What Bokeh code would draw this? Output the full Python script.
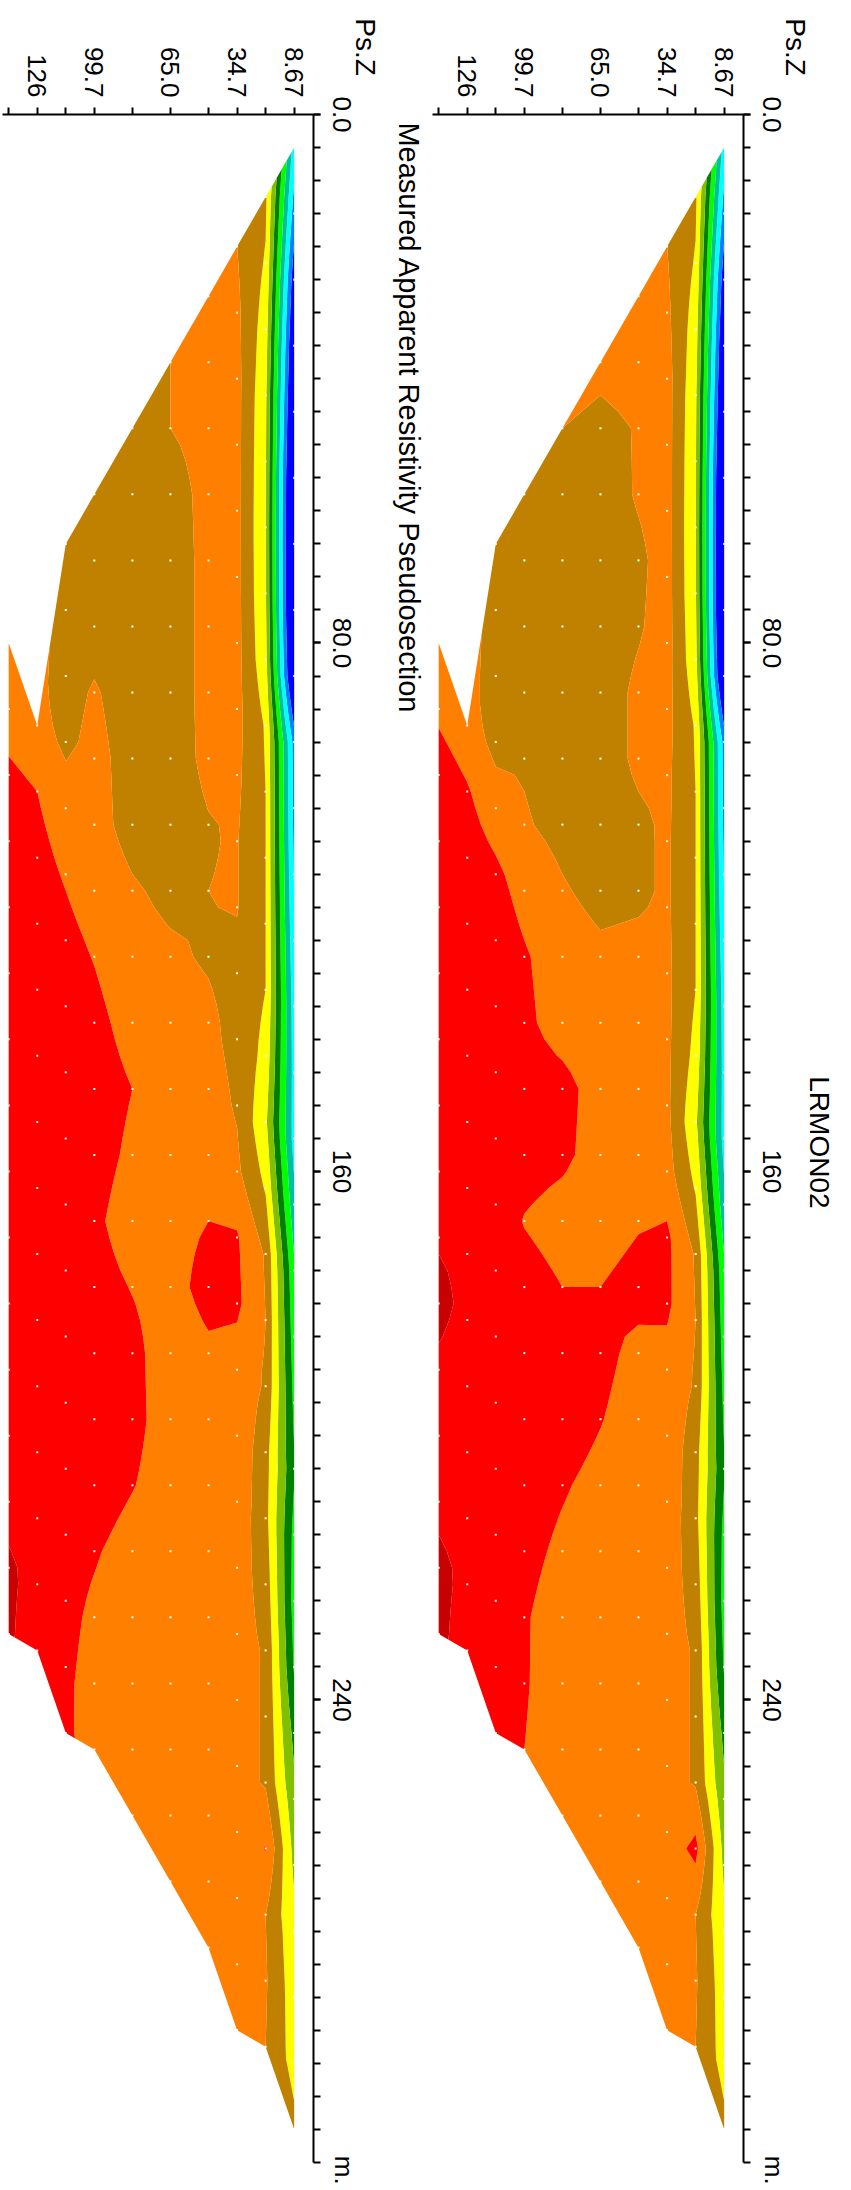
import math
import numpy as np
from bokeh.plotting import figure
from bokeh.models import Range1d, FixedTicker, Label
from bokeh.layouts import row
from bokeh.embed import file_html
from bokeh.resources import INLINE

# ---------------- geometry of the pseudosection (data) ----------------
pseudo_depth = [8.67, 21.67, 34.67, 47.67, 65.0, 82.33, 99.67, 112.67, 125.67, 138.67]
level_start = [5.0, 12.5, 20.0, 27.5, 37.5, 47.5, 57.5, 65.0, 92.5, 80.0]
station_step = 10.0

depth_major_ticks = [8.67, 34.67, 65.0, 99.67, 125.67]
depth_major_labels = ["8.67", "34.7", "65.0", "99.7", "126"]
depth_minor_ticks = [21.67, 47.67, 82.33, 112.67, 138.67]
depth_axis_end = 141.5
dist_major_ticks = [0, 80, 160, 240]
dist_major_labels = ["0.0", "80.0", "160", "240"]
dist_minor_step = 5
dist_axis_end = 310

# contour classes (log-scaled apparent resistivity class units)
class_levels = [-5, 1, 2, 3, 4, 5, 6, 7, 8, 9, 10, 11, 15]
class_colors = ["#0000FF", "#0080FF", "#00FFFF", "#00C0A0", "#00FF00", "#008000",
                "#80C000", "#FFFF00", "#C08000", "#FF8000", "#FF0000", "#C80000"]

# ---------------- panel with title LRMON02 (right) ----------------
meas_n1 = [2.5, 1.5, 0.3, -0.4, -0.9, -1.4, -1.5, -1.5, -1.0, 1.6, 1.7, 1.9, 2.2, 2.5, 2.6, 2.6,
           3.3, 4.2, 4.5, 4.8, 5.1, 4.7, 4.6, 4.9, 5.7, 6.3, 6.8, 7.3, 7.5, 7.6, 8.3]
meas_n2 = [8.2, 7.9, 7.5, 7.2, 7.1, 7.05, 7.1, 7.3, 7.9, 8.0, 8.0, 8.0, 8.0, 7.7, 7.2, 7.9,
           8.9, 9.0, 8.9, 8.4, 8.3, 8.6, 8.9, 8.9, 8.9, 10.3, 9.0, 9.1, 9.0]
meas_n3 = [9.0, 9.2, 9.4, 9.4, 9.4, 9.4, 9.4, 9.3, 9.2, 9.15, 9.15, 9.2, 9.2, 9.2, 9.4, 10.2,
           10.2, 9.6, 9.7, 9.7, 9.5, 9.4, 9.4, 9.4, 9.4, 9.4, 9.4, 9.3]
meas_n4 = [9.4, 9.3, 9.05, 9.1, 8.8, 8.9, 9.2, 9.2, 8.8, 8.8, 9.3, 9.4, 9.5, 9.5, 9.9, 10.4,
           9.7, 9.5, 9.5, 9.4, 9.4, 9.4, 9.4, 9.4, 9.4, 9.3]
meas_n5 = [9.2, 8.8, 8.5, 8.5, 8.5, 8.5, 8.5, 8.6, 8.7, 9.2, 9.4, 9.6, 9.6, 9.5, 10.0, 10.3,
           10.05, 9.7, 9.5, 9.4, 9.4, 9.4, 9.4, 9.3]
meas_n6 = [9.0, 8.4, 8.4, 8.4, 8.4, 8.5, 8.7, 9.1, 9.5, 9.6, 10.3, 10.2, 9.6, 10.0, 10.5, 10.5,
           10.1, 9.8, 9.5, 9.4, 9.4, 9.4]
meas_n7 = [8.6, 8.4, 8.4, 8.4, 8.9, 9.1, 9.7, 10.1, 10.2, 10.4, 10.4, 9.95, 10.4, 10.6, 10.6,
           10.5, 10.3, 10.1, 10.1, 10.0]
meas_n8 = [8.6, 8.5, 8.5, 8.7, 9.5, 10.2, 10.5, 10.5, 10.6, 10.6, 10.5, 10.6, 10.6, 10.6, 10.6,
           10.5, 10.5, 10.4, 10.3]
meas_n9 = [9.4, 10.1, 10.5, 10.6, 10.7, 10.7, 10.7, 10.7, 10.8, 10.7, 10.7, 10.7, 10.7, 10.8, 10.6]
meas_n10 = [9.3, 9.8, 10.5, 10.6, 10.7, 10.7, 10.7, 10.7, 10.7, 10.9, 11.3, 10.8, 10.7, 10.8, 11.2, 11.2]

# ---------------- second panel (left) ----------------
calc_n1 = [2.5, 1.5, 0.3, -0.4, -0.9, -1.4, -1.5, -1.5, -1.0, 1.6, 1.7, 1.9, 2.2, 2.5, 2.6, 2.6,
           3.3, 4.2, 4.5, 4.8, 5.1, 4.7, 4.6, 4.9, 5.7, 6.3, 6.8, 7.3, 7.5, 7.6, 8.3]
calc_n2 = [8.2, 7.9, 7.5, 7.2, 7.1, 7.05, 7.1, 7.3, 7.9, 8.0, 8.0, 8.0, 8.0, 7.7, 7.2, 7.9,
           8.9, 9.0, 8.9, 8.4, 8.3, 8.6, 8.9, 8.9, 8.9, 10.05, 9.0, 9.1, 9.0]
calc_n3 = [9.0, 9.2, 9.3, 9.3, 9.3, 9.3, 9.3, 9.3, 9.2, 9.05, 9.05, 8.7, 8.7, 8.9, 9.2, 10.1,
           10.2, 9.5, 9.7, 9.7, 9.5, 9.4, 9.4, 9.4, 9.4, 9.4, 9.4, 9.3]
calc_n4 = [9.4, 9.3, 9.3, 9.3, 9.3, 9.3, 9.3, 9.2, 8.95, 9.0, 8.9, 9.2, 9.4, 9.5, 10.0, 10.4,
           9.8, 9.5, 9.4, 9.4, 9.4, 9.4, 9.4, 9.4, 9.4, 9.3]
calc_n5 = [9.0, 9.0, 8.6, 8.5, 8.5, 8.5, 8.6, 8.6, 8.8, 9.15, 9.4, 9.4, 9.5, 9.7, 9.6, 9.4,
           9.5, 9.5, 9.4, 9.4, 9.4, 9.4, 9.4, 9.3]
calc_n6 = [8.7, 8.5, 8.5, 8.5, 8.5, 8.6, 8.7, 9.1, 9.3, 9.6, 10.0, 9.8, 9.5, 9.95, 10.3, 10.3,
           10.05, 9.6, 9.4, 9.4, 9.4, 9.4]
calc_n7 = [8.6, 8.5, 8.6, 9.1, 9.3, 9.3, 9.5, 9.95, 10.3, 10.5, 10.4, 10.2, 10.4, 10.6, 10.6,
           10.5, 10.1, 9.8, 9.6, 9.8]
calc_n8 = [8.6, 8.5, 8.6, 8.8, 9.5, 9.9, 10.3, 10.5, 10.6, 10.6, 10.5, 10.6, 10.6, 10.6, 10.6,
           10.4, 10.3, 10.2, 10.1]
calc_n9 = [9.3, 10.0, 10.3, 10.6, 10.7, 10.7, 10.7, 10.7, 10.7, 10.7, 10.7, 10.7, 10.7, 10.8, 10.6]
calc_n10 = [9.2, 9.5, 10.2, 10.6, 10.7, 10.7, 10.7, 10.7, 10.7, 10.7, 10.8, 10.7, 10.7, 10.8, 11.1, 11.1]

meas_rows = [meas_n1, meas_n2, meas_n3, meas_n4, meas_n5, meas_n6, meas_n7, meas_n8, meas_n9, meas_n10]
calc_rows = [calc_n1, calc_n2, calc_n3, calc_n4, calc_n5, calc_n6, calc_n7, calc_n8, calc_n9, calc_n10]

FONT = "Liberation Sans"
H = 2190
CORNER_X = 312.7      # canvas x of depth 0 inside each figure
CORNER_Y = 114.0      # canvas y of distance 0
PX_PER_DEPTH = 2.196
PX_PER_M = 6.606


def make_panel(rows, width):
    x_range = Range1d(CORNER_X / PX_PER_DEPTH, -(width - CORNER_X) / PX_PER_DEPTH)
    y_range = Range1d((H - CORNER_Y) / PX_PER_M, -CORNER_Y / PX_PER_M)
    p = figure(x_range=x_range, y_range=y_range, width=width, height=H,
               x_axis_location="above", y_axis_location="right",
               min_border=0, min_border_left=0, min_border_right=0,
               min_border_top=0, min_border_bottom=0,
               output_backend="svg", toolbar_location=None,
               background_fill_color="white", border_fill_color="white")
    p.outline_line_color = None
    p.grid.visible = False

    grid_d = np.arange(0, dist_axis_end + 0.01, 2.5)
    X, Y, Z = [], [], []
    dots_x, dots_y = [], []
    for depth, start, vals in zip(pseudo_depth, level_start, rows):
        pos = start + station_step * np.arange(len(vals))
        d = np.clip(grid_d, pos[0], pos[-1])
        X.append(np.full(d.shape, depth))
        Y.append(d)
        Z.append(np.interp(d, pos, vals))
        dots_x.extend([depth] * len(pos))
        dots_y.extend(pos.tolist())
    p.contour(np.array(X), np.array(Y), np.array(Z), class_levels, fill_color=class_colors)
    p.scatter(dots_x, dots_y, marker="square", size=2, fill_color="white", line_color=None)

    xa = p.xaxis[0]
    xa.fixed_location = 0
    xa.bounds = (0, depth_axis_end)
    xa.ticker = FixedTicker(ticks=depth_major_ticks, minor_ticks=depth_minor_ticks)
    xa.major_label_overrides = {t: l for t, l in zip(depth_major_ticks, depth_major_labels)}
    xa.major_label_orientation = -math.pi / 2
    xa.major_label_standoff = 10
    ya = p.yaxis[0]
    ya.fixed_location = 0
    ya.bounds = (0, dist_axis_end)
    ya.ticker = FixedTicker(ticks=dist_major_ticks,
                            minor_ticks=list(range(0, dist_axis_end + 1, dist_minor_step)))
    ya.major_label_overrides = {t: l for t, l in zip(dist_major_ticks, dist_major_labels)}
    ya.major_label_orientation = "parallel"
    ya.major_label_standoff = 13
    for ax in (xa, ya):
        ax.axis_line_width = 2
        ax.axis_line_color = "black"
        ax.major_tick_line_width = 2
        ax.minor_tick_line_width = 2
        ax.major_tick_out = 7
        ax.major_tick_in = 0
        ax.minor_tick_out = 7
        ax.minor_tick_in = 0
        ax.major_label_text_font = FONT
        ax.major_label_text_font_size = "26px"
        ax.major_label_text_color = "black"

    p.add_layout(Label(x=-23.6, y=-10.2, text="Ps.Z", angle=-math.pi / 2,
                       text_align="center", text_baseline="middle",
                       text_font=FONT, text_font_size="28px", text_color="black"))
    p.add_layout(Label(x=-14.0, y=311.2, text="m.", angle=-math.pi / 2,
                       text_align="center", text_baseline="middle",
                       text_font=FONT, text_font_size="26px", text_color="black"))
    return p


p_left = make_panel(calc_rows, 430)
p_left.add_layout(Label(x=-43.4, y=1.2, text="Measured Apparent Resistivity Pseudosection",
                        angle=-math.pi / 2, text_align="left", text_baseline="middle",
                        text_font=FONT, text_font_size="29px", text_color="black"))
p_right = make_panel(meas_rows, 421)
p_right.add_layout(Label(x=-34.8, y=155.6, text="LRMON02",
                         angle=-math.pi / 2, text_align="center", text_baseline="middle",
                         text_font=FONT, text_font_size="28px", text_color="black"))

layout = row(p_left, p_right)
open("out.html", "w").write(file_html(layout, INLINE, title="LRMON02 pseudosection"))
